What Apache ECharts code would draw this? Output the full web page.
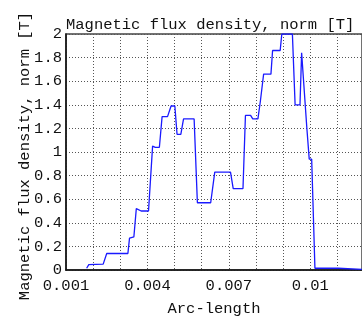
<!DOCTYPE html>
<html>
<head>
<meta charset="utf-8">
<script src="https://cdn.jsdelivr.net/npm/echarts@6/dist/echarts.min.js"></script>
<style>html,body{margin:0;padding:0;background:#fff;}#c{width:362px;height:322px;}</style>
</head>
<body>
<div id="c"></div>
<script>
var titleText = 'Magnetic flux density, norm [T]';
var xName = 'Arc-length';
var yName = 'Magnetic flux density, norm [T]';
var arcLength = [0.00176,0.00184,0.00237,0.00250,0.00328,0.00334,0.00350,0.00359,0.00377,0.00404,
  0.00419,0.00429,0.00444,0.00454,0.00474,0.00487,0.00501,0.00509,0.00523,0.00533,
  0.00572,0.00584,0.00633,0.00648,0.00706,0.00716,0.00752,0.00761,0.00780,0.00788,
  0.00807,0.00816,0.00828,0.00855,0.00861,0.00889,0.00895,0.00934,0.00944,0.00962,
  0.00968,0.00987,0.00993,0.00996,0.01005,0.01017,0.01103,0.01190];
var fluxNorm = [0.015,0.045,0.05,0.14,0.14,0.27,0.28,0.52,0.50,0.50,
  1.05,1.04,1.04,1.30,1.30,1.39,1.39,1.15,1.15,1.28,
  1.28,0.57,0.57,0.83,0.83,0.69,0.69,1.31,1.31,1.28,
  1.28,1.43,1.66,1.66,1.86,1.86,2.0,2.0,1.40,1.40,
  1.84,1.21,1.21,0.94,0.94,0.015,0.015,0.005];
var xTickLabels = ['0.001','0.004','0.007','0.01'];

var data = arcLength.map(function(x,i){return [x, fluxNorm[i]];});
var FONT = '"Liberation Mono", monospace';
var chart = echarts.init(document.getElementById('c'));
chart.setOption({
  animation:false,
  title:{text:titleText,left:66,top:17,padding:0,
    textStyle:{fontFamily:FONT,fontSize:15.5,fontWeight:'normal',color:'#111'}},
  graphic:[{type:'text',x:25,y:156,rotation:Math.PI/2,
    style:{text:yName,font:'15.5px "Liberation Mono", monospace',fill:'#111',
      textAlign:'center',textVerticalAlign:'middle'}}],
  grid:{left:66,right:-2,top:34,bottom:52,show:true,borderColor:'#444',borderWidth:1.5},
  xAxis:{type:'value',min:0.001,max:0.011904,interval:0.001,
    name:xName,nameLocation:'middle',nameGap:31,
    nameTextStyle:{fontFamily:FONT,fontSize:15.5,color:'#111'},
    axisLine:{lineStyle:{color:'#111',width:1.5}},axisTick:{show:false},
    axisLabel:{margin:8,fontFamily:FONT,fontSize:15.5,color:'#111',showMaxLabel:false,
      formatter:function(v){
        var s = parseFloat(v.toFixed(3)).toString();
        return xTickLabels.indexOf(s) >= 0 ? s : '';
      }},
    splitLine:{show:true,lineStyle:{color:'#555',type:[1,2],width:1}}},
  yAxis:{type:'value',min:0,max:2,interval:0.2,
    axisLine:{show:true,lineStyle:{color:'#111',width:1.5}},axisTick:{show:false},
    axisLabel:{margin:4,fontFamily:FONT,fontSize:15.5,color:'#111',
      formatter:function(v){return parseFloat(v.toFixed(1)).toString();}},
    splitLine:{show:true,lineStyle:{color:'#555',type:[1,2],width:1}}},
  series:[{type:'line',data:data,showSymbol:false,clip:true,
    lineStyle:{color:'#1a1aff',width:1.3}}]
});
</script>
</body>
</html>
